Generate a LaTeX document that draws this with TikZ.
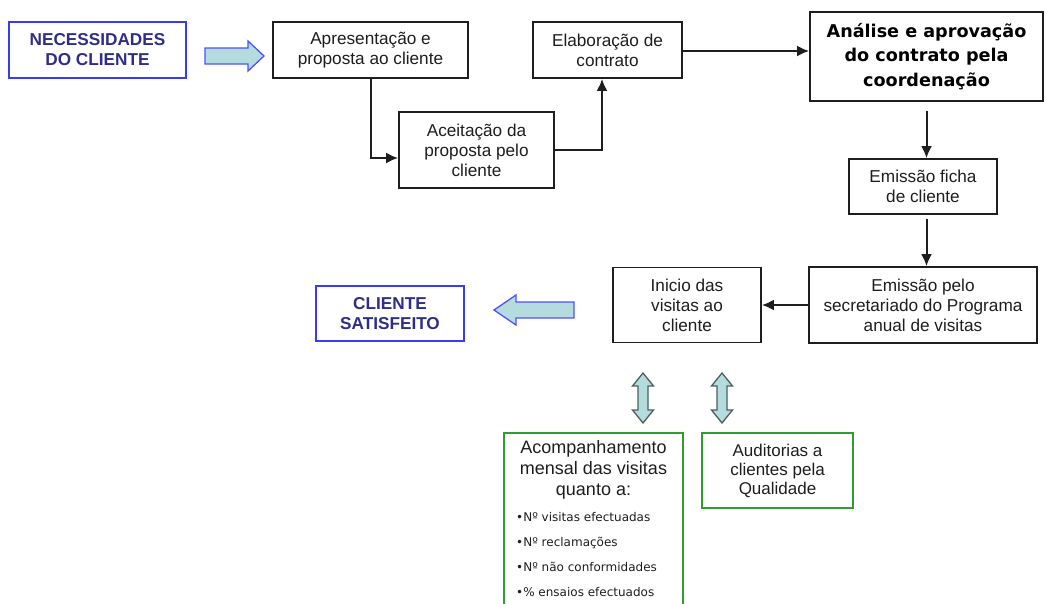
\documentclass[tikz,border=0pt]{standalone}
\usepackage{fontspec}
\setmainfont{Liberation Sans}
\newfontfamily\verdana{DejaVu Sans}
\usetikzlibrary{arrows.meta,calc}

\definecolor{inkdark}{HTML}{1E1E1E}
\definecolor{navytext}{HTML}{2E2E8A}
\definecolor{edgeblue}{HTML}{3B3BF5}
\definecolor{edgegreen}{HTML}{2E9E2E}
\definecolor{tealfill}{HTML}{B4DCDF}
\definecolor{arrowgray}{HTML}{4D5F5F}
\definecolor{fatblue}{HTML}{5050FF}

\tikzset{
  stepbox/.style={draw=inkdark, line width=1.8pt, fill=white, align=center,
    inner sep=0pt, text=inkdark, font=\fontsize{17.2}{20}\selectfont},
  bluebox/.style={draw=edgeblue, line width=1.5pt, align=center, inner sep=0pt,
    text=navytext, font=\fontsize{17.2}{20}\selectfont\bfseries},
  greenbox/.style={draw=edgegreen, line width=1.5pt, align=center, inner sep=0pt,
    text=inkdark, font=\fontsize{17}{19}\selectfont},
  conn/.style={draw=inkdark, line width=2pt,
    -{Latex[length=12pt,width=11pt]}},
  fatarrow/.style={draw=fatblue, line width=1.3pt, fill=tealfill, line join=miter},
  twinarrow/.style={draw=arrowgray, line width=1.3pt, fill=tealfill, line join=miter}
}

\begin{document}
\begin{tikzpicture}[x=1pt,y=-1pt]
  \useasboundingbox (0,0) rectangle (1046,603);

  % process boxes
  \node[bluebox, minimum width=177pt, minimum height=56pt] (nec) at (97.5,50)
    {NECESSIDADES\\DO CLIENTE};
  \node[stepbox, minimum width=195pt, minimum height=56pt] (apr) at (370.5,50)
    {Apresentação e\\proposta ao cliente};
  \node[stepbox, minimum width=155pt, minimum height=76pt] (ace) at (476.5,150)
    {Aceitação da\\proposta pelo\\cliente};
  \node[stepbox, minimum width=149pt, minimum height=56pt] (ela) at (607.5,50)
    {Elaboração de\\contrato};
  \node[stepbox, minimum width=233pt, minimum height=89pt,
        font=\verdana\bfseries\fontsize{17.6}{24.5}\selectfont, text=black] (ana) at (926.5,56.5)
    {Análise e aprovação\\do contrato pela\\coordenação};
  \node[stepbox, minimum width=148pt, minimum height=55pt] (fic) at (923,186.5)
    {Emissão ficha\\de cliente};
  \node[stepbox, minimum width=228pt, minimum height=76pt] (emi) at (923,305)
    {Emissão pelo\\secretariado do Programa\\anual de visitas};
  \node[stepbox, minimum width=148pt, minimum height=75pt] (ini) at (687,305)
    {Inicio das\\visitas ao\\cliente};
  \node[bluebox, minimum width=148pt, minimum height=55pt] (cli) at (390,313.5)
    {CLIENTE\\SATISFEITO};

  % follow-up boxes
  \node[greenbox, minimum width=179pt, minimum height=190pt, anchor=north] (aco) at (593.5,432) {};
  \node[align=center, inner sep=0pt, text=inkdark, font=\fontsize{18}{20.8}\selectfont]
    (acotitle) at (593.5,470) {Acompanhamento\\mensal das visitas\\quanto a:};
  \node[align=left, inner sep=0pt, anchor=west, text=inkdark,
        font=\verdana\fontsize{12}{25}\selectfont] (acolist) at (516,554.5)
    {•Nº visitas efectuadas\\•Nº reclamações\\•Nº não conformidades\\•\% ensaios efectuados};
  \node[greenbox, minimum width=151pt, minimum height=75pt] (aud) at (777.5,470.5)
    {Auditorias a\\clientes pela\\Qualidade};

  % connectors
  \coordinate (acein) at ($(ace.west)+(0,8)$);
  \coordinate (elain) at ($(ela.south)+(-5.5,0)$);
  \coordinate (elaout) at ($(ela.east)+(0,1)$);
  \draw[conn] (apr.south) |- (acein);
  \draw[conn] (ace.east) -| (elain);
  \draw[conn] (elaout) -- (elaout -| ana.west);
  \draw[conn, shorten <=9pt] (ana.south) -- (ana.south |- fic.north);
  \draw[conn, shorten <=4pt] (fic.south -| ana.south) -- (ana.south |- emi.north);
  \draw[conn] (emi.west) -- (ini.east);

  % wide arrows
  \draw[fatarrow] (205,48) -- (248,48) -- (248,41) -- (264,56) -- (248,71)
    -- (248,64) -- (205,64) -- cycle;
  \draw[fatarrow] (574,302) -- (516,302) -- (516,295) -- (494,310) -- (516,325)
    -- (516,318) -- (574,318) -- cycle;

  % two-way arrows
  \foreach \cx in {643,722}{
    \draw[twinarrow] (\cx,373) -- (\cx+10.5,386) -- (\cx+5,386) -- (\cx+5,410)
      -- (\cx+10.5,410) -- (\cx,423) -- (\cx-10.5,410) -- (\cx-5,410)
      -- (\cx-5,386) -- (\cx-10.5,386) -- cycle;
  }
\end{tikzpicture}
\end{document}
